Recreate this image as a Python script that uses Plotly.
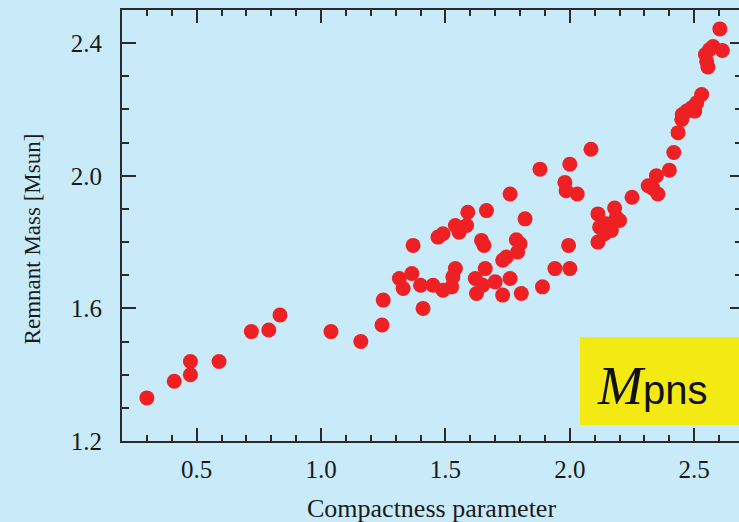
import plotly.graph_objects as go

compactness = [
    0.30, 0.41, 0.475, 0.475, 0.59, 0.72, 0.79, 0.835, 1.04, 1.16,
    1.245, 1.25, 1.315, 1.33, 1.365, 1.37, 1.41, 1.40, 1.45, 1.49,
    1.525, 1.53, 1.54, 1.47, 1.49, 1.54, 1.585, 1.555, 1.59, 1.665,
    1.645, 1.655, 1.62, 1.65, 1.625, 1.66, 1.70, 1.73, 1.76, 1.805,
    1.89, 1.73, 1.745, 1.79, 1.785, 1.80, 1.82, 1.76, 1.88, 1.94,
    2.00, 1.995, 1.98, 1.985, 2.00, 2.03, 2.085,
    2.113, 2.18, 2.20, 2.12, 2.167, 2.113, 2.147, 2.187, 2.14,
    2.25, 2.315, 2.348, 2.354, 2.334, 2.40, 2.418, 2.435, 2.45, 2.452,
    2.47, 2.49, 2.502, 2.51, 2.53, 2.55, 2.555, 2.545, 2.562, 2.576,
    2.613, 2.603,
]
remnant_mass = [
    1.33, 1.38, 1.44, 1.40, 1.44, 1.53, 1.535, 1.58, 1.53, 1.50,
    1.55, 1.625, 1.69, 1.66, 1.705, 1.79, 1.60, 1.67, 1.67, 1.655,
    1.665, 1.695, 1.72, 1.815, 1.825, 1.85, 1.85, 1.83, 1.89, 1.895,
    1.805, 1.79, 1.69, 1.67, 1.645, 1.72, 1.68, 1.64, 1.69, 1.645,
    1.665, 1.745, 1.755, 1.77, 1.807, 1.795, 1.87, 1.945, 2.02, 1.72,
    1.72, 1.79, 1.98, 1.955, 2.035, 1.945, 2.08,
    1.885, 1.903, 1.865, 1.845, 1.835, 1.80, 1.855, 1.874, 1.825,
    1.935, 1.97, 2.00, 1.945, 1.962, 2.017, 2.07, 2.13, 2.17, 2.185,
    2.195, 2.205, 2.195, 2.22, 2.245, 2.345, 2.328, 2.366, 2.381, 2.39,
    2.378, 2.443,
]

x_title = "Compactness parameter"
y_title = "Remnant Mass [Msun]"

BG = "#C9EAF8"
AX = "#2b2b2b"
TXT = "#1a1a1a"
SERIF = "Liberation Serif"

fig = go.Figure()
fig.add_trace(go.Scatter(
    x=compactness, y=remnant_mass, mode="markers",
    marker=dict(color="#EE2024", size=15, line=dict(width=0)),
    showlegend=False,
))
fig.add_trace(go.Scatter(x=[None], y=[None], yaxis="y2", showlegend=False,
                         hoverinfo="skip", mode="markers"))

fig.update_layout(
    width=739, height=522,
    margin=dict(l=122, r=0, t=10, b=81),
    paper_bgcolor=BG, plot_bgcolor=BG,
    xaxis=dict(
        range=[0.2, 2.68], tickmode="linear", tick0=0, dtick=0.5,
        tickformat=".1f",
        ticks="inside", ticklen=13, tickwidth=2, tickcolor=AX,
        showline=True, linewidth=2, linecolor=AX, mirror="ticks",
        showgrid=False, zeroline=False,
        tickfont=dict(family=SERIF, size=25, color=TXT),
        minor=dict(dtick=0.1, tick0=0, ticks="inside", ticklen=6,
                   tickwidth=2, tickcolor=AX, showgrid=False),
        ticklabelstandoff=5,
    ),
    yaxis=dict(
        range=[1.2, 2.5], tickmode="linear", tick0=1.2, dtick=0.4,
        tickformat=".1f",
        ticks="inside", ticklen=14, tickwidth=2, tickcolor=AX,
        showline=True, linewidth=2, linecolor=AX, mirror=False,
        showgrid=False, zeroline=False,
        tickfont=dict(family=SERIF, size=25, color=TXT),
        minor=dict(dtick=0.1, tick0=1.2, ticks="inside", ticklen=7,
                   tickwidth=2, tickcolor=AX, showgrid=False),
        ticklabelstandoff=13,
    ),
    yaxis2=dict(
        range=[1.2, 2.5], overlaying="y", side="right", anchor="x",
        tickmode="linear", tick0=1.2, dtick=0.4, showticklabels=False,
        ticks="inside", ticklen=9, tickwidth=2, tickcolor=AX,
        showline=False, showgrid=False, zeroline=False,
        minor=dict(dtick=0.1, tick0=1.2, ticks="inside", ticklen=4,
                   tickwidth=2, tickcolor=AX, showgrid=False),
    ),
)

fig.add_shape(type="rect", xref="paper", yref="paper",
              x0=0.7423, x1=1.05, y0=0.0371, y1=0.2413,
              fillcolor="#F2EA12", line=dict(width=0), layer="above")

fig.add_annotation(
    xref="paper", yref="paper", x=0.766, y=0.128, xanchor="left", yanchor="middle",
    text="<i><span style='font-family:\"Liberation Serif\"; font-size:54px'>M</span></i>pns",
    font=dict(family="Liberation Sans", size=40, color="#111"), showarrow=False,
)

fig.add_annotation(
    xref="paper", yref="paper", x=0.5024, y=-0.1555, xanchor="center", yanchor="middle",
    text=x_title, font=dict(family=SERIF, size=26, color=TXT), showarrow=False,
)
fig.add_annotation(
    xref="paper", yref="paper", x=-0.1459, y=0.47, xanchor="center", yanchor="middle",
    text=y_title, textangle=-90, font=dict(family=SERIF, size=23, color=TXT),
    showarrow=False,
)

fig.write_html("out.html")
